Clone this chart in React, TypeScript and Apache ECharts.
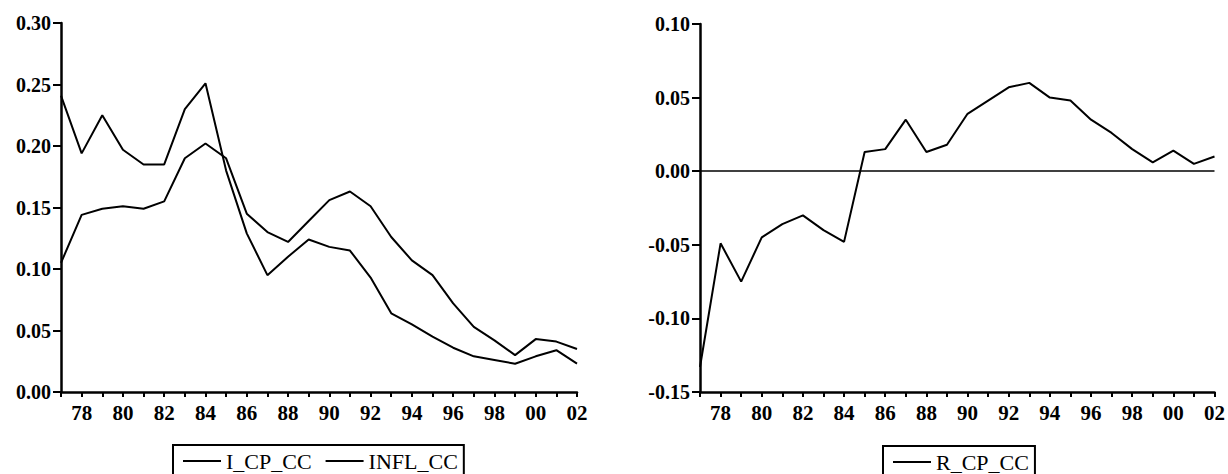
import React, { useEffect, useRef } from "react";
import * as echarts from "echarts";

const years = ["77","78","79","80","81","82","83","84","85","86","87","88","89","90","91","92","93","94","95","96","97","98","99","00","01","02"];
const iCpCc = [0.105,0.144,0.149,0.151,0.149,0.155,0.190,0.202,0.190,0.145,0.130,0.122,0.139,0.156,0.163,0.151,0.126,0.107,0.095,0.072,0.053,0.042,0.030,0.043,0.041,0.035];
const inflCc = [0.241,0.194,0.225,0.197,0.185,0.185,0.230,0.251,0.180,0.129,0.095,0.110,0.124,0.118,0.115,0.093,0.064,0.055,0.045,0.036,0.029,0.026,0.023,0.029,0.034,0.023];
const rCpCc = [-0.133,-0.049,-0.075,-0.045,-0.036,-0.030,-0.040,-0.048,0.013,0.015,0.035,0.013,0.018,0.039,0.048,0.057,0.060,0.050,0.048,0.035,0.026,0.015,0.006,0.014,0.005,0.010];

const FONT = "Liberation Serif";

export default function App() {
  const ref = useRef<HTMLDivElement>(null);
  useEffect(() => {
    document.body.style.margin = "0";
    const chart = echarts.init(ref.current!, null, { renderer: "svg" });
    const xAxisBase = (gridIndex: number) => ({
      type: "category",
      gridIndex,
      data: years,
      boundaryGap: false,
      axisLine: { onZero: false, lineStyle: { color: "#000", width: 2.5 } },
      axisTick: { interval: 0, length: 5, lineStyle: { color: "#000", width: 2 } },
      axisLabel: {
        interval: (i: number) => i % 2 === 1,
        color: "#000",
        fontFamily: FONT,
        fontWeight: "bold",
        fontSize: 21,
        margin: 10,
      },
      splitLine: { show: false },
    });
    const yAxisBase = (gridIndex: number, min: number, max: number) => ({
      type: "value",
      gridIndex,
      min,
      max,
      interval: 0.05,
      axisLine: { show: true, onZero: false, lineStyle: { color: "#000", width: 2.5 } },
      axisTick: { show: true, length: 8, lineStyle: { color: "#000", width: 2 } },
      axisLabel: {
        color: "#000",
        fontFamily: FONT,
        fontWeight: "bold",
        fontSize: 20,
        margin: 10,
        formatter: (v: number) => v.toFixed(2),
      },
      splitLine: { show: false },
    });
    const legendBase = {
      orient: "horizontal",
      icon: "rect",
      itemWidth: 38,
      itemHeight: 2,
      itemGap: 14,
      borderColor: "#000",
      borderWidth: 2,
      borderRadius: 0,
      padding: [5, 6, 6, 10],
      textStyle: { fontFamily: FONT, fontSize: 22, color: "#000" },
    };
    chart.setOption({
      animation: false,
      backgroundColor: "#fff",
      grid: [
        { left: 61, top: 23, width: 516, height: 369 },
        { left: 700, top: 24, width: 517, height: 368 },
      ],
      xAxis: [xAxisBase(0), xAxisBase(1)],
      yAxis: [yAxisBase(0, 0, 0.3), yAxisBase(1, -0.15, 0.1)],
      legend: [
        { ...legendBase, data: ["I_CP_CC", "INFL_CC"], left: 173, top: 445 },
        { ...legendBase, data: ["R_CP_CC"], left: 883, top: 446 },
      ],
      series: [
        {
          name: "I_CP_CC", type: "line", xAxisIndex: 0, yAxisIndex: 0, data: iCpCc,
          symbol: "none", lineStyle: { color: "#000", width: 2 }, itemStyle: { color: "#000" },
        },
        {
          name: "INFL_CC", type: "line", xAxisIndex: 0, yAxisIndex: 0, data: inflCc,
          symbol: "none", lineStyle: { color: "#000", width: 2 }, itemStyle: { color: "#000" },
        },
        {
          name: "R_CP_CC", type: "line", xAxisIndex: 1, yAxisIndex: 1, data: rCpCc,
          symbol: "none", lineStyle: { color: "#000", width: 2 }, itemStyle: { color: "#000" },
          markLine: {
            silent: true,
            symbol: ["none", "none"],
            label: { show: false },
            lineStyle: { color: "#000", width: 1.5, type: "solid" },
            data: [{ yAxis: 0 }],
          },
        },
      ],
    });
    return () => chart.dispose();
  }, []);
  return <div ref={ref} style={{ width: 1228, height: 474 }} />;
}
